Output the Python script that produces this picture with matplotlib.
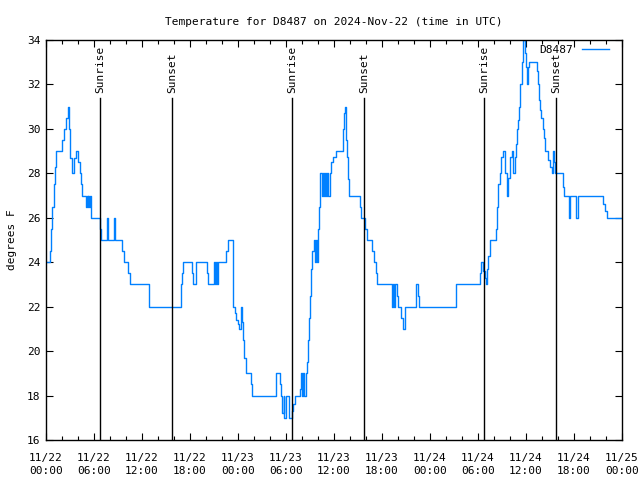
import matplotlib
matplotlib.use('Agg')
import matplotlib.pyplot as plt
import matplotlib.dates as mdates
import pandas as pd

start = pd.Timestamp('2024-11-22 00:00')

# (hours since start, temperature F) at each change of the reading
day1 = [(0, 24), (0.5, 24.5), (0.65, 25.5), (0.8, 26.5), (0.95, 27.5), (1.1, 28.3), (1.25, 29),
        (2.05, 29.5), (2.2, 30), (2.5, 30.5), (2.75, 31), (2.85, 30), (2.95, 29.5), (3.05, 28.7),
        (3.2, 28), (3.5, 28.7), (3.7, 29), (4.05, 28.5), (4.2, 28), (4.35, 27.5), (4.5, 27),
        (5.0, 26.5), (5.1, 27), (5.2, 26.5), (5.3, 27), (5.4, 26.5), (5.5, 27), (5.6, 26),
        (6.75, 25.5), (6.9, 25), (7.6, 26), (7.75, 25), (8.5, 26), (8.6, 25), (9.5, 24.5),
        (9.7, 24), (10.3, 23.5), (10.45, 23), (12.85, 22), (16.85, 23), (17.0, 23.5), (17.15, 24),
        (18.2, 23.5), (18.35, 23), (18.8, 24), (20.1, 23.5), (20.25, 23), (21.0, 24), (21.1, 23),
        (21.25, 24), (21.35, 23), (21.5, 24), (22.5, 24.5), (22.7, 25), (23.4, 22), (23.6, 21.7),
        (23.8, 21.4), (24.0, 21.2)]
day2 = [(24.1, 21), (24.35, 22), (24.45, 21.3), (24.65, 20.5), (24.8, 19.7), (25.0, 19),
        (25.6, 18.5), (25.75, 18), (28.7, 19), (29.25, 18.5), (29.4, 18), (29.55, 17.2),
        (29.7, 18), (29.8, 17), (30.0, 18), (30.4, 17), (30.7, 17.3), (30.9, 17.6), (31.1, 18),
        (31.75, 18.3), (31.9, 19), (32.0, 18), (32.15, 19), (32.3, 18), (32.45, 19), (32.6, 19.5),
        (32.7, 20.5), (32.85, 21.5), (33.0, 22.5), (33.15, 23.7), (33.3, 24.5), (33.45, 25),
        (33.6, 24), (33.75, 25), (33.85, 24), (33.95, 25.5), (34.1, 26.5), (34.3, 28), (34.5, 27),
        (34.6, 28), (34.7, 27), (34.85, 28), (34.95, 27), (35.1, 28), (35.25, 27), (35.45, 28),
        (35.65, 28.5), (35.85, 28.75), (36.3, 29), (37.1, 30), (37.25, 30.7), (37.4, 31),
        (37.5, 29.5), (37.6, 28.75), (37.7, 27.75), (37.85, 27), (39.25, 26.5), (39.4, 26),
        (39.85, 25.5), (40.1, 25), (40.8, 24.5), (41.0, 24), (41.2, 23.5), (41.4, 23), (43.2, 22),
        (43.35, 23), (43.5, 22), (43.65, 23), (43.85, 22.5), (44.05, 22), (44.4, 21.5), (44.6, 21),
        (44.85, 22), (46.2, 22.5), (46.3, 23), (46.45, 22.5), (46.65, 22)]
day3 = [(51.2, 23), (54.2, 23.5), (54.35, 24), (54.6, 23.6), (54.85, 23.3), (54.95, 23),
        (55.1, 23.7), (55.3, 24.3), (55.5, 25), (56.2, 25.5), (56.35, 26.5), (56.5, 27.5),
        (56.75, 28), (56.92, 28.75), (57.08, 29), (57.37, 28), (57.58, 27), (57.79, 27.8),
        (58.0, 28.75), (58.2, 29), (58.4, 28), (58.58, 28.75), (58.75, 29.3), (58.83, 30),
        (59.0, 30.4), (59.08, 31), (59.25, 32), (59.46, 33), (59.67, 34), (59.87, 33.4),
        (60.0, 32.8), (60.17, 32), (60.3, 32.8), (60.42, 33), (61.33, 32.6), (61.46, 32),
        (61.6, 31.3), (61.75, 30.85), (61.9, 30.5), (62.08, 30), (62.25, 29.6), (62.42, 29),
        (62.8, 28.6), (63.0, 28.3), (63.2, 28), (63.33, 29), (63.5, 28.5), (63.6, 28),
        (64.6, 27.4), (64.75, 27), (65.35, 26), (65.5, 27), (66.3, 26), (66.45, 27),
        (69.58, 26.6), (69.875, 26.3), (70.08, 26), (72.0, 26)]

sun_hours = [6.75, 15.75, 30.75, 39.75, 54.75, 63.75]
sun_labels = ['Sunrise', 'Sunset', 'Sunrise', 'Sunset', 'Sunrise', 'Sunset']

readings = day1 + day2 + day3
hours = [h for h, _ in readings]
temps = [v for _, v in readings]
times = start + pd.to_timedelta(hours, unit='h')
sun_times = start + pd.to_timedelta(sun_hours, unit='h')

plt.rcParams['font.family'] = 'DejaVu Sans Mono'
fig = plt.figure(figsize=(6.4, 4.8), dpi=100, facecolor='white')
ax = fig.add_axes([46 / 640, 40 / 480, 576 / 640, 400 / 480])

ax.plot(times, temps, drawstyle='steps-post', color='#0080ff', linewidth=1.0, label='D8487')

for t, lab in zip(sun_times, sun_labels):
    ax.plot([t, t], [16, 31.4], color='black', linewidth=1.0)
    ax.text(t, 31.6, lab, rotation=90, ha='center', va='bottom', fontsize=8)

ax.set_xlim(start, start + pd.Timedelta(hours=72))
ax.set_ylim(16, 34)
ax.set_yticks(range(16, 35, 2))
ax.xaxis.set_major_locator(mdates.HourLocator(byhour=[0, 6, 12, 18]))
ax.xaxis.set_minor_locator(mdates.HourLocator(interval=2))
ax.xaxis.set_major_formatter(mdates.DateFormatter('%m/%d\n%H:%M'))
ax.tick_params(axis='both', which='major', direction='in', length=5, width=0.8,
               top=True, right=True, labelsize=8, pad=4)
ax.tick_params(axis='x', which='major', pad=9)
ax.tick_params(axis='x', which='minor', direction='in', length=3, width=0.8, top=True)
for lab in ax.get_xticklabels():
    lab.set_linespacing(1.45)
for sp in ax.spines.values():
    sp.set_linewidth(1.0)

ax.set_ylabel('degrees F', fontsize=8, labelpad=7)
ax.set_title('Temperature for D8487 on 2024-Nov-22 (time in UTC)', fontsize=8, pad=11)

ax.legend(loc='upper right', bbox_to_anchor=(0.986, 1.0), frameon=False, fontsize=8,
          markerfirst=False, handlelength=2.4, borderaxespad=0.05, handletextpad=0.8)

plt.savefig('out.png', dpi=100, facecolor='white')
plt.close()
